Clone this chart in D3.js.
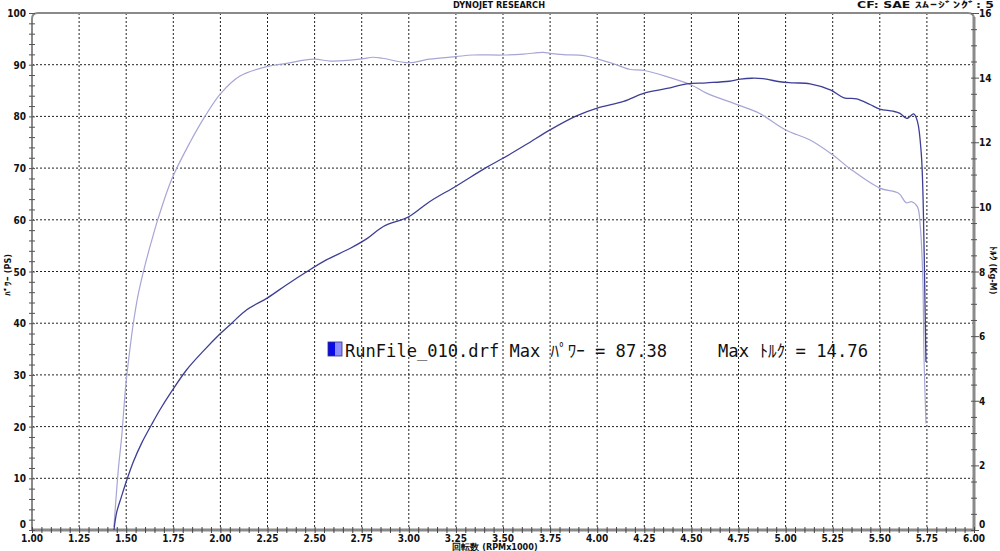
<!DOCTYPE html>
<html><head><meta charset="utf-8">
<script src="https://cdn.jsdelivr.net/npm/d3@7"></script>
<style>
html,body{margin:0;padding:0;background:#fff;}
svg{display:block;}
.tk{font-family:"DejaVu Sans Condensed","Liberation Sans Narrow",sans-serif;font-weight:bold;font-size:10px;fill:#111;}
</style></head>
<body>
<svg id="c" width="1000" height="551"></svg>
<script>
// ---- data ----
const rpmPower = [1.435,1.45,1.476,1.497,1.538,1.582,1.635,1.68,1.741,1.821,1.909,2.0,2.06,2.14,2.25,2.35,2.46,2.56,2.69,2.78,2.865,3.0,3.11,3.25,3.41,3.5,3.625,3.75,3.89,4.0,4.14,4.25,4.37,4.475,4.58,4.70,4.76,4.82,4.88,4.97,5.04,5.13,5.24,5.31,5.377,5.448,5.5,5.57,5.607,5.643,5.68,5.70,5.72,5.73,5.738,5.745];
const powerPS = [0,3.5,6.6,9.0,13.2,16.8,20.4,23.3,26.8,31.0,34.6,38.0,40.0,42.6,44.9,47.4,50.0,52.2,54.5,56.4,58.7,60.6,63.5,66.5,70.1,71.9,74.6,77.4,80.1,81.6,82.9,84.5,85.4,86.3,86.5,86.8,87.2,87.38,87.3,86.7,86.5,86.3,85.1,83.6,83.4,82.3,81.4,81.0,80.6,79.6,80.5,79.0,72.9,63.8,48.0,32.5];
const rpmTorque = [1.435,1.458,1.476,1.497,1.517,1.538,1.564,1.60,1.635,1.67,1.741,1.839,1.918,2.0,2.104,2.246,2.35,2.493,2.582,2.635,2.75,2.81,2.86,3.0,3.11,3.25,3.34,3.5,3.61,3.714,3.75,3.82,3.93,4.0,4.09,4.17,4.25,4.37,4.5,4.58,4.75,4.86,5.0,5.13,5.25,5.34,5.5,5.6,5.64,5.67,5.70,5.715,5.728,5.735,5.745];
const torqueKgM = [0.1,1.86,2.89,4.43,5.47,6.4,7.3,8.2,8.95,9.65,10.85,12.0,12.8,13.5,14.05,14.34,14.44,14.57,14.51,14.52,14.58,14.63,14.6,14.46,14.57,14.65,14.70,14.70,14.73,14.78,14.75,14.71,14.68,14.58,14.42,14.26,14.22,14.03,13.77,13.52,13.15,12.9,12.38,12.07,11.61,11.19,10.58,10.42,10.13,10.16,10.0,9.39,7.84,5.26,3.3];
const xTicks = [1.00,1.25,1.50,1.75,2.00,2.25,2.50,2.75,3.00,3.25,3.50,3.75,4.00,4.25,4.50,4.75,5.00,5.25,5.50,5.75,6.00];
const powerTicks = [0,10,20,30,40,50,60,70,80,90,100];
const torqueTicks = [0,2,4,6,8,10,12,14,16];
const titleText = "DYNOJET  RESEARCH";
const cfText = "CF: SAE  ｽﾑｰｼﾞﾝｸﾞ: 5";
const xLabel = "回転数 (RPMx1000)";
const yLabelL = "ﾊﾟﾜｰ (PS)";
const yLabelR = "ﾄﾙｸ (Kg-M)";
const legendFile = "RunFile_010.drf";
const maxPower = 87.38, maxTorque = 14.76;

// ---- layout ----
const L = 32, R = 974, T = 13, B = 530;
const svg = d3.select("#c");
const x = d3.scaleLinear().domain([1, 6]).range([L, R]);
const yP = d3.scaleLinear().domain([0, 100]).range([B, T]);
const yT = d3.scaleLinear().domain([0, 16]).range([B, T]);

// grid
const g = svg.append("g");
g.selectAll(".vg").data(xTicks.slice(1, -1)).join("line")
  .attr("x1", d => x(d)).attr("x2", d => x(d)).attr("y1", T).attr("y2", B)
  .attr("stroke", "#222").attr("stroke-width", 1).attr("stroke-dasharray", "2,2");
g.selectAll(".hg").data(powerTicks.slice(1, -1)).join("line")
  .attr("x1", L).attr("x2", R).attr("y1", d => yP(d)).attr("y2", d => yP(d))
  .attr("stroke", "#222").attr("stroke-width", 1).attr("stroke-dasharray", "2,2");

// frame
const frame = d3.path();
const r = 6;
frame.moveTo(L, B);
frame.lineTo(L, T + r);
frame.quadraticCurveTo(L, T, L + r, T);
frame.lineTo(R - r, T);
frame.quadraticCurveTo(R, T, R, T + r);
frame.lineTo(R, B);
svg.append("path").attr("d", frame.toString()).attr("fill", "none").attr("stroke", "#8a8a8a").attr("stroke-width", 2);
svg.append("line").attr("x1", R).attr("x2", R).attr("y1", T + 4).attr("y2", B).attr("stroke", "#8a8a8a").attr("stroke-width", 3);
svg.append("line").attr("x1", L).attr("x2", R).attr("y1", B).attr("y2", B).attr("stroke", "#8a8a8a").attr("stroke-width", 3);

// axes via d3
const axL = svg.append("g").attr("transform", `translate(${L},0)`)
  .call(d3.axisLeft(yP).tickValues(d3.range(0, 101, 2)).tickSize(4).tickFormat(""));
axL.select(".domain").remove();
axL.selectAll(".tick line").attr("x2", -3).attr("x1", 3).attr("stroke", "#555");
svg.selectAll(".pl").data(powerTicks).join("text").attr("class", "tk")
  .attr("x", L - 6).attr("y", d => (d === 0 ? yP(d) - 2 : yP(d) + 4)).attr("text-anchor", "end").text(d => d);

const axR = svg.append("g").attr("transform", `translate(${R},0)`)
  .call(d3.axisRight(yT).tickValues(d3.range(0, 16.01, 0.5)).tickFormat(""));
axR.select(".domain").remove();
axR.selectAll(".tick line").attr("x1", -3).attr("x2", d => (d % 2 === 0 ? 5 : 3)).attr("stroke", "#555");
svg.selectAll(".tl").data(torqueTicks).join("text").attr("class", "tk")
  .attr("x", R + 5).attr("y", d => (d === 0 ? yT(d) - 2 : yT(d) + 4)).attr("text-anchor", "start").text(d => d);

const axB = svg.append("g").attr("transform", `translate(0,${B})`)
  .call(d3.axisBottom(x).tickValues(d3.range(1, 6.001, 0.05)).tickFormat(""));
axB.select(".domain").remove();
axB.selectAll(".tick line").attr("y1", -3).attr("y2", 3).attr("stroke", "#444");
svg.selectAll(".xl").data(xTicks).join("text").attr("class", "tk")
  .attr("x", d => x(d)).attr("y", B + 12).attr("text-anchor", "middle").text(d => d.toFixed(2));

// titles
svg.append("text").attr("class", "tk").attr("x", 499).attr("y", 8).attr("text-anchor", "middle").style("font-size", "9px")
  .attr("textLength", 92).attr("lengthAdjust", "spacingAndGlyphs").text(titleText);
svg.append("text").attr("class", "tk").attr("x", 857).attr("y", 8).attr("text-anchor", "start").style("font-size", "9px")
  .attr("textLength", 137).attr("lengthAdjust", "spacingAndGlyphs").text(cfText);
svg.append("text").attr("class", "tk").attr("x", 495).attr("y", 550).attr("text-anchor", "middle").style("font-size", "9px").text(xLabel);
svg.append("text").attr("class", "tk").attr("transform", "translate(11,275) rotate(-90)").attr("text-anchor", "middle").style("font-size", "9px").text(yLabelL);
svg.append("text").attr("class", "tk").attr("transform", "translate(990,270) rotate(90)").attr("text-anchor", "middle").style("font-size", "9px").text(yLabelR);

// curves
const torquePts = rpmTorque.map((v, i) => [v, torqueKgM[i]]);
const powerPts = rpmPower.map((v, i) => [v, powerPS[i]]);
svg.append("path").datum(torquePts)
  .attr("d", d3.line().x(d => x(d[0])).y(d => yT(d[1])).curve(d3.curveCatmullRom.alpha(0.5)))
  .attr("fill", "none").attr("stroke", "#a6a6d6").attr("stroke-width", 1.2);
svg.append("path").datum(powerPts)
  .attr("d", d3.line().x(d => x(d[0])).y(d => yP(d[1])).curve(d3.curveCatmullRom.alpha(0.5)))
  .attr("fill", "none").attr("stroke", "#3e3e96").attr("stroke-width", 1.3);

// legend
const lg = svg.append("g");
lg.append("rect").attr("x", 328).attr("y", 342).attr("width", 7).attr("height", 14).attr("fill", "#0a0ae8");
lg.append("rect").attr("x", 335).attr("y", 342).attr("width", 7).attr("height", 14).attr("fill", "#8c8cff");
lg.append("rect").attr("x", 328).attr("y", 342).attr("width", 14).attr("height", 14).attr("fill", "none").attr("stroke", "#30307a").attr("stroke-width", 0.8);
const lgFont = "'DejaVu Sans Mono','Noto Sans CJK JP',monospace";
lg.append("text").attr("x", 345).attr("y", 357)
  .style("font-family", lgFont).style("font-size", "17px").attr("fill", "#111")
  .attr("textLength", 322).attr("lengthAdjust", "spacingAndGlyphs")
  .text(`${legendFile} Max ﾊﾟﾜｰ = ${maxPower.toFixed(2)}`);
lg.append("text").attr("x", 718).attr("y", 357)
  .style("font-family", lgFont).style("font-size", "17px").attr("fill", "#111")
  .attr("textLength", 150).attr("lengthAdjust", "spacingAndGlyphs")
  .text(`Max ﾄﾙｸ = ${maxTorque.toFixed(2)}`);
</script>
</body></html>
